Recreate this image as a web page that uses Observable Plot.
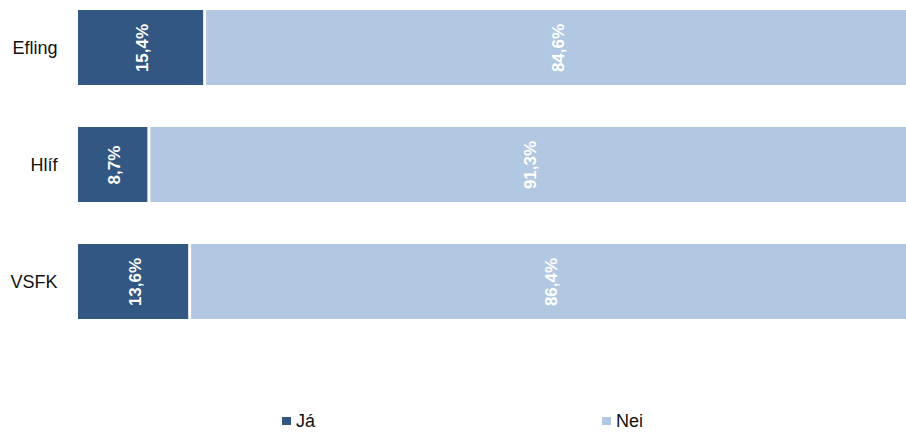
<!DOCTYPE html>
<html>
<head>
<meta charset="utf-8">
<script src="https://cdn.jsdelivr.net/npm/d3@7"></script>
<script src="https://cdn.jsdelivr.net/npm/@observablehq/plot@0.6"></script>
<style>
  html, body { margin: 0; padding: 0; background: white; }
  #wrap { position: relative; width: 906px; height: 432px; font-family: "Liberation Sans", Arial, sans-serif; }
  .lg { position: absolute; display: flex; align-items: center; font-size: 18px; color: #111; }
  .sw { width: 9px; height: 8px; margin-right: 5px; }
</style>
</head>
<body>
<div id="wrap"></div>
<script>
const groups = ["Efling", "Hlíf", "VSFK"];
const answers = ["Já", "Nei"];
const jaValues = [15.4, 8.7, 13.6];
const neiValues = [84.6, 91.3, 86.4];
const colors = ["#325782", "#b2c7e1"];

const data = [];
groups.forEach((g, i) => {
  data.push({group: g, answer: "Já", value: jaValues[i]});
  data.push({group: g, answer: "Nei", value: neiValues[i]});
});
const fmt = v => v.toFixed(1).replace(".", ",") + "%";

const plot = Plot.plot({
  width: 906,
  height: 400,
  marginLeft: 78,
  marginRight: 0,
  marginTop: 0,
  marginBottom: 0,
  style: {fontFamily: '"Liberation Sans", Arial, sans-serif', fontSize: "18px", color: "#111", overflow: "hidden", background: "white"},
  x: {domain: [0, 100], range: [78, 910], axis: null},
  y: {domain: groups, range: [-31.6, 362], padding: 0.355, label: null},
  color: {domain: answers, range: colors},
  marks: [
    Plot.barX(data.filter(d => d.answer === "Já"), {x1: 0, x2: "value", y: "group", fill: "answer", insetRight: 3}),
    Plot.barX(data.filter(d => d.answer === "Nei"), {x1: d => 100 - d.value, x2: 100, y: "group", fill: "answer"}),
    Plot.text(data, Plot.stackX({x: "value", y: "group", z: "answer", text: d => fmt(d.value), rotate: -90, fill: "white", fontWeight: "bold", fontSize: 17})),
    Plot.axisY({tickSize: 0, tickPadding: 21, fontSize: 18, label: null})
  ]
});
const wrap = document.getElementById("wrap");
wrap.appendChild(plot);

const legendPos = [282, 602];
answers.forEach((a, i) => {
  const el = document.createElement("div");
  el.className = "lg";
  el.style.left = legendPos[i] + "px";
  el.style.top = "410px";
  el.style.height = "22px";
  const sw = document.createElement("span");
  sw.className = "sw";
  sw.style.background = colors[i];
  const t = document.createElement("span");
  t.textContent = a;
  el.appendChild(sw);
  el.appendChild(t);
  wrap.appendChild(el);
});
</script>
</body>
</html>
